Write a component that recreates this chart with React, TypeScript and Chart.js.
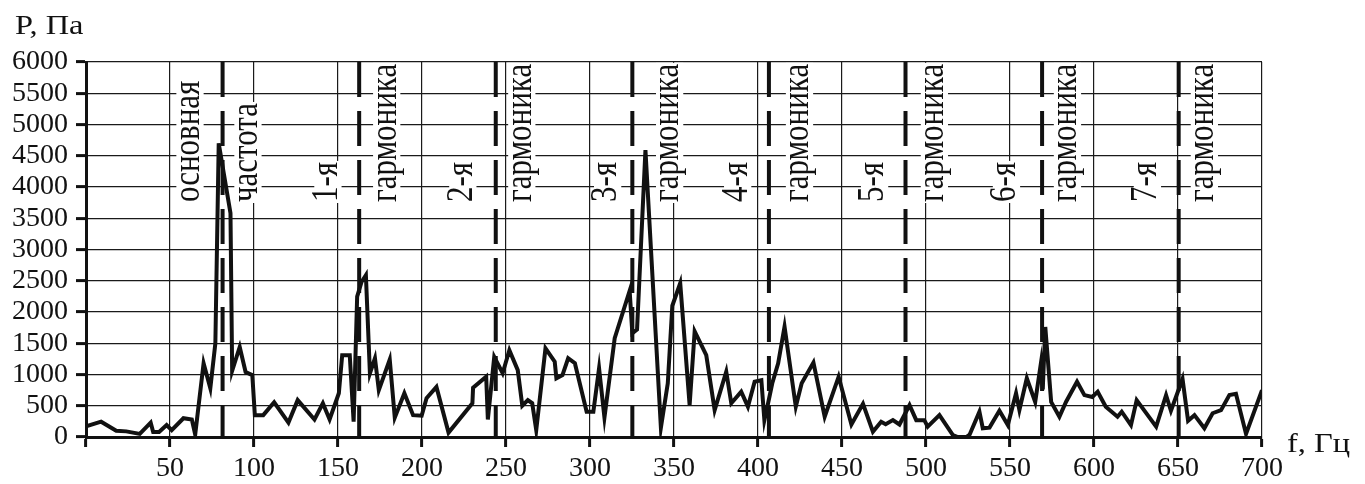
import React, { useEffect, useRef } from "react";
import { Chart, registerables } from "chart.js";

Chart.register(...registerables);

// Spectrum: frequency (Hz) and pressure amplitude (Pa)
const freq = [
  0, 9, 18, 24, 32, 38.5, 40, 43.5, 48, 51, 58, 63, 65, 70, 74, 77, 79, 86, 87, 91.5,
  95, 99, 100.5, 105.5, 112, 120.5, 126, 136, 141, 145, 150.5, 152.5, 157, 159.3, 161.4, 164, 166.6, 169, 172, 174.3,
  180.8, 183.8, 189.5, 194.7, 199.8, 202.7, 208.6, 215.8, 230, 230.4, 238.2, 239.2, 243, 248, 252, 257, 259.7, 263, 265.6, 268,
  273.5, 279, 280, 283.6, 287, 291, 298, 302, 305.4, 308.6, 314.7, 323.6, 325.2, 328, 333, 342.2, 346.3, 349, 353.7, 359.3,
  362.3, 369.2, 374.2, 381.1, 384.1, 390, 394, 398, 402, 403.8, 406, 408.5, 412, 415.8, 422.5, 426, 433, 439.7, 448, 455.6,
  462.5, 468.4, 473.3, 476, 480.3, 484.2, 490.2, 494.2, 499, 501, 508, 516, 519, 524, 526, 531.8, 533.8, 537.8, 543.7, 548.7,
  553.6, 555.6, 560, 565, 568.4, 569.5, 571, 574.5, 579.4, 583.4, 589.9, 594.3, 599, 602.2, 607, 614, 616.5, 622, 625.4, 637,
  642.9, 645.8, 649.6, 652.7, 656, 659.8, 665.7, 670.6, 675.6, 680.6, 684.5, 690.5, 700,
];
const pressure = [
  170, 245, 100, 90, 50, 230, 80, 80, 190, 110, 300, 280, 40, 1180, 780, 1500, 4700, 3580, 1060, 1440,
  1040, 990, 350, 350, 555, 230, 590, 280, 540, 280, 700, 1310, 1310, 245, 2245, 2480, 2590, 1020, 1260, 750,
  1240, 310, 700, 350, 340, 620, 800, 70, 540, 790, 965, 280, 1280, 1020, 1390, 1070, 500, 590, 540, 110,
  1420, 1205, 940, 990, 1260, 1180, 405, 405, 1100, 310, 1580, 2340, 1660, 1720, 4590, 150, 860, 2100, 2460, 510,
  1690, 1310, 430, 1045, 540, 725, 485, 885, 910, 270, 540, 860, 1180, 1765, 485, 860, 1190, 325, 965, 200,
  530, 85, 245, 205, 270, 200, 510, 270, 270, 165, 350, 30, 0, 0, 40, 405, 140, 150, 420, 190,
  700, 430, 940, 560, 1180, 760, 1760, 560, 325, 565, 885, 670, 640, 725, 485, 325, 405, 190, 590, 165,
  670, 420, 700, 930, 260, 350, 140, 380, 430, 670, 690, 50, 750,
];

// Fundamental frequency and its harmonics (dashed markers)
const harmonicFreq = [81.3, 162.6, 243.9, 325.2, 406.5, 487.8, 569.1, 650.4];

// Rotated annotation texts and the frequency they are anchored at
const leftLabels = ["основная", "1-я", "2-я", "3-я", "4-я", "5-я", "6-я", "7-я"];
const leftLabelFreq = [61.9, 144, 224.3, 310.5, 387.9, 469.4, 547.9, 631.8];
const rightLabels = ["частота", "гармоника", "гармоника", "гармоника", "гармоника", "гармоника", "гармоника", "гармоника"];
const rightLabelFreq = [96.4, 179, 259.4, 347.4, 424.7, 505, 584.2, 665.7];
const labelBaseP = 3760;

const yTitle = "P, Па";
const xTitle = "f, Гц";

const FONT = '"Liberation Serif", "Times New Roman", serif';

const annotations = {
  id: "annotations",
  beforeDatasetsDraw(chart: any) {
    const { ctx, scales } = chart;
    const x = scales.x;
    const y = scales.y;
    ctx.save();
    const size = 31;
    const stretch = 1.24;
    ctx.font = `${size}px ${FONT}`;
    const drawLabel = (text: string, f: number) => {
      const px = x.getPixelForValue(f);
      const py = y.getPixelForValue(labelBaseP);
      const w = ctx.measureText(text).width;
      ctx.save();
      ctx.translate(px, py);
      ctx.rotate(-Math.PI / 2);
      ctx.scale(1, stretch);
      ctx.fillStyle = "#fff";
      ctx.fillRect(-1, -11, w + 2, 22);
      ctx.fillStyle = "#111";
      ctx.textAlign = "left";
      ctx.textBaseline = "alphabetic";
      ctx.fillText(text, 0, size * 0.23);
      ctx.restore();
    };
    leftLabels.forEach((t, i) => drawLabel(t, leftLabelFreq[i]));
    rightLabels.forEach((t, i) => drawLabel(t, rightLabelFreq[i]));

    ctx.strokeStyle = "#111";
    ctx.lineWidth = 4;
    ctx.setLineDash([35, 14]);
    harmonicFreq.forEach((f) => {
      const px = x.getPixelForValue(f);
      ctx.beginPath();
      ctx.moveTo(px, y.top);
      ctx.lineTo(px, y.bottom);
      ctx.stroke();
    });
    ctx.restore();
  },
  afterDraw(chart: any) {
    const { ctx } = chart;
    ctx.save();
    ctx.fillStyle = "#111";
    ctx.font = `27px ${FONT}`;
    ctx.textAlign = "left";
    ctx.textBaseline = "alphabetic";
    ctx.save();
    ctx.translate(15, 34);
    ctx.scale(1.2, 1);
    ctx.fillText(yTitle, 0, 0);
    ctx.restore();
    ctx.save();
    ctx.translate(1287, 452);
    ctx.scale(1.2, 1);
    ctx.fillText(xTitle, 0, 0);
    ctx.restore();
    ctx.restore();
  },
};

export default function App() {
  const ref = useRef<HTMLCanvasElement>(null);
  useEffect(() => {
    document.body.style.margin = "0";
    const points = freq.map((f, i) => ({ x: f, y: pressure[i] }));
    const chart = new Chart(ref.current!, {
      type: "line",
      data: {
        datasets: [
          {
            data: points,
            borderColor: "#111",
            borderWidth: 4,
            pointRadius: 0,
            tension: 0,
            fill: false,
          },
        ],
      },
      options: {
        animation: false,
        responsive: true,
        maintainAspectRatio: false,
        layout: { padding: { left: 0, top: 62, right: 103, bottom: 0 } },
        plugins: { legend: { display: false }, tooltip: { enabled: false } },
        scales: {
          x: {
            type: "linear",
            min: 0,
            max: 700,
            afterFit: (s: any) => {
              s.height = 47;
            },
            ticks: {
              stepSize: 50,
              autoSkip: false,
              color: "#111",
              padding: 5,
              maxRotation: 0,
              font: { family: FONT, size: 28 },
              callback: (v: any) => (v === 0 ? "" : String(v)),
            },
            grid: { color: "#1a1a1a", lineWidth: 1.2, tickColor: "#111", tickLength: 10, tickWidth: 3 },
            border: { display: true, color: "#111", width: 3 },
          },
          y: {
            min: 0,
            max: 6000,
            afterFit: (s: any) => {
              s.width = 86;
            },
            ticks: {
              stepSize: 500,
              autoSkip: false,
              color: "#111",
              padding: 8,
              font: { family: FONT, size: 28 },
              callback: (v: any) => String(v),
            },
            grid: { color: "#1a1a1a", lineWidth: 1.2, tickColor: "#111", tickLength: 10, tickWidth: 3 },
            border: { display: true, color: "#111", width: 3 },
          },
        },
      },
      plugins: [annotations],
    });
    return () => chart.destroy();
  }, []);
  return (
    <div style={{ position: "fixed", left: 0, top: 0, width: 1365, height: 484, background: "#fff" }}>
      <canvas ref={ref} />
    </div>
  );
}
